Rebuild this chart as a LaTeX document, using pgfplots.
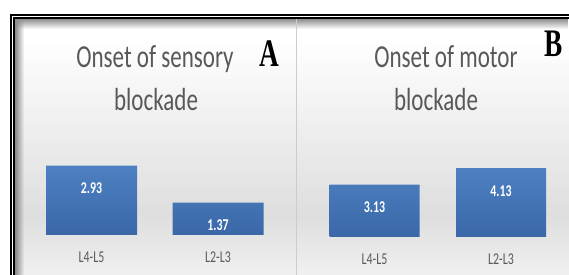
\documentclass[border=0pt]{standalone}
\usepackage{pgfplots}
\pgfplotsset{compat=1.18}
\usetikzlibrary{fadings}
\usepackage{fontspec}
\setmainfont{Carlito}
\newfontfamily\calib{Carlito}[FakeStretch=0.72]
\newfontfamily\timesb{Liberation Serif}[FakeStretch=0.7]
\definecolor{txtgray}{HTML}{595959}
\definecolor{bartop}{HTML}{4E81C2}
\definecolor{barbot}{HTML}{3A67A7}
\definecolor{bgmid}{HTML}{DEDEDE}
\tikzfading[name=fadeeast, left color=transparent!0, right color=transparent!100]
\tikzfading[name=fadesouth, top color=transparent!0, bottom color=transparent!100]
\pgfplotsset{
  panel/.style={
    anchor=south west, clip=false,
    xmin=-0.5, xmax=1.5, ymin=0,
    axis line style={draw=none},
    ytick=\empty, xtick={0,1},
    major tick length=0pt,
    xticklabel style={anchor=base, yshift=-28pt, text=txtgray,
      font=\calib\fontsize{16.5}{19}\selectfont},
    ybar,
    nodes near coords={\pgfmathprintnumber[fixed,fixed zerofill,precision=2,assume math mode=true]{\pgfplotspointmeta}},
    every node near coord/.append style={anchor=base, yshift=-28pt, text=white,
      font=\calib\bfseries\fontsize{16.5}{19}\selectfont},
  },
  bars/.style={draw=none, top color=bartop, bottom color=barbot},
}
\begin{document}
\begin{tikzpicture}[x=1pt,y=1pt]
\path[use as bounding box] (0,0) rectangle (569,275);
\begin{scope}
\clip (0,0) rectangle (569,275);
\fill[white] (0,0) rectangle (569,275);
% panel backgrounds
\shade[top color=white, bottom color=bgmid] (15.3,60) rectangle (569,236);
\shade[top color=bgmid, bottom color=white!55!bgmid] (15.3,-0.2) rectangle (569,60.2);
\fill[white] (15.3,235.8) rectangle (569,256.3);
\fill[black!45, path fading=fadesouth] (15.3,256.3) rectangle (569,246);
\fill[black!45, path fading=fadeeast] (15.3,0) rectangle (24,256.3);
% divider
\draw[black!20, line width=1pt] (296.7,0) -- (296.7,256.3);
% frame
\draw[black, line width=2.2pt] (11.2,-10) |- (600,260);
\draw[black, line width=1.8pt] (14.3,-10) |- (600,257);
\end{scope}

% Panel A
\begin{axis}[panel, at={(28.25pt,40pt)}, x=126.5pt, y=23.7pt, ymax=4,
  xticklabels={L4-L5,L2-L3}, bar width=91pt]
\addplot[bars] coordinates {(0,2.93) (1,1.37)};
\end{axis}

% Panel B
\begin{axis}[panel, at={(311.25pt,38pt)}, x=126.5pt, y=16.7pt, ymax=6,
  xticklabels={L4-L5,L2-L3}, bar width=90pt]
\addplot[bars] coordinates {(0,3.13) (1,4.13)};
\end{axis}

% titles
\begin{scope}[every node/.style={anchor=base, text=txtgray, inner sep=0pt,
  font=\calib\fontsize{32}{38}\selectfont}]
\node at (155,207) {Onset of sensory};
\node at (156,164) {blockade};
\node at (446,207) {Onset of motor};
\node at (436,164) {blockade};
\end{scope}
\node[anchor=base, inner sep=0pt, font=\timesb\bfseries\fontsize{39}{44}\selectfont] at (269.5,208) {A};
\node[anchor=base, inner sep=0pt, font=\timesb\bfseries\fontsize{39}{44}\selectfont] at (553.5,218) {B};
\end{tikzpicture}
\end{document}
